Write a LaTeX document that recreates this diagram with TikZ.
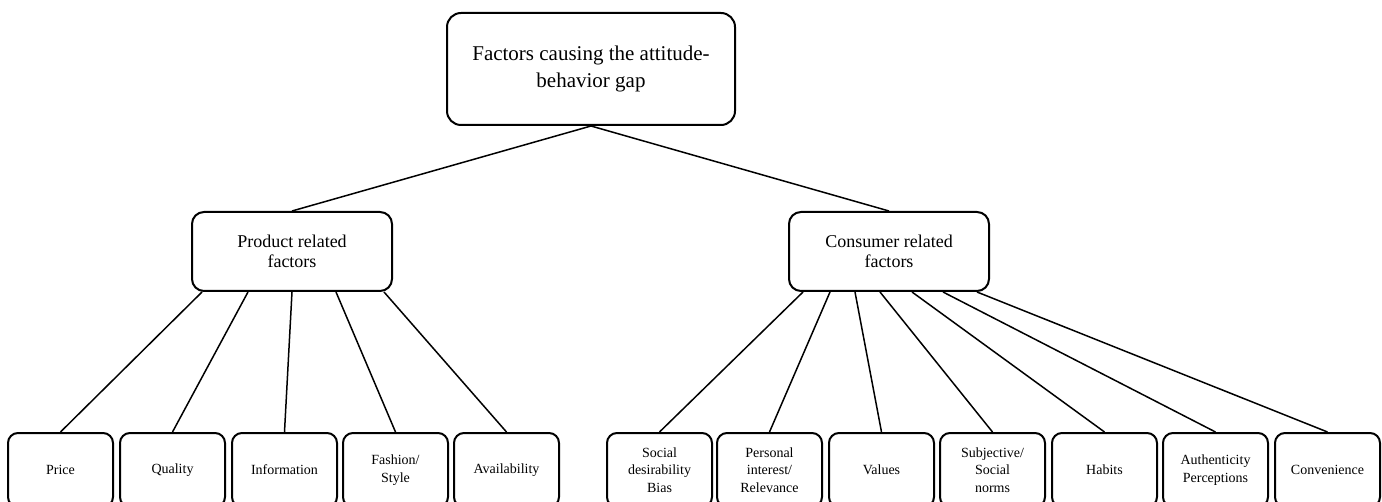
\documentclass[tikz,border=0pt]{standalone}
\usepackage{fontspec}
\setmainfont{Liberation Serif}
\begin{document}
\begin{tikzpicture}[x=0.5pt, y=-0.5pt,
  topbox/.style={draw, line width=1pt, rounded corners=7pt, minimum width=144pt, minimum height=56pt, align=center, font=\fontsize{10.5}{13.3}\selectfont},
  midbox/.style={draw, line width=1pt, rounded corners=6pt, minimum width=100pt, minimum height=39.5pt, align=center, font=\fontsize{9}{10}\selectfont},
  leafbox/.style={draw, line width=1pt, rounded corners=5pt, minimum width=52.5pt, minimum height=37pt, inner sep=1pt, align=center, font=\fontsize{7}{8.8}\selectfont},
  link/.style={line width=0.75pt}]
\useasboundingbox (0,0) rectangle (1382,502);
\node[topbox] (gap) at (591,69){Factors causing the attitude-\\behavior gap};
\node[midbox] (prod) at (292,251.5){Product related\\factors};
\node[midbox] (cons) at (889,251.5){Consumer related\\factors};
\draw[link] (gap.south) -- (prod.north);
\draw[link] (gap.south) -- (cons.north);
% product related
\node[leafbox] (price) at (60.5,470){Price};
\node[leafbox] (quality) at (172.5,470){Quality};
\node[leafbox] (info) at (284.5,470){Information};
\node[leafbox] (fashion) at (395.5,470){Fashion/\\Style};
\node[leafbox] (avail) at (506.5,470){Availability};
\draw[link] ([xshift=-45pt]prod.south) -- (price.north);
\draw[link] ([xshift=-22pt]prod.south) -- (quality.north);
\draw[link] (prod.south) -- (info.north);
\draw[link] ([xshift=22pt]prod.south) -- (fashion.north);
\draw[link] ([xshift=46pt]prod.south) -- (avail.north);
% consumer related
\node[leafbox] (social) at (659.5,470){Social\\desirability\\Bias};
\node[leafbox] (personal) at (769.5,470){Personal\\interest/\\Relevance};
\node[leafbox] (values) at (881.5,470){Values};
\node[leafbox] (norms) at (992.5,470){Subjective/\\Social\\norms};
\node[leafbox] (habits) at (1104.5,470){Habits};
\node[leafbox] (authent) at (1215.5,470){Authenticity\\Perceptions};
\node[leafbox] (conv) at (1327.5,470){Convenience};
\draw[link] ([xshift=-43pt]cons.south) -- (social.north);
\draw[link] ([xshift=-29.5pt]cons.south) -- (personal.north);
\draw[link] ([xshift=-17pt]cons.south) -- (values.north);
\draw[link] ([xshift=-4.5pt]cons.south) -- (norms.north);
\draw[link] ([xshift=11.5pt]cons.south) -- (habits.north);
\draw[link] ([xshift=27pt]cons.south) -- (authent.north);
\draw[link] ([xshift=44pt]cons.south) -- (conv.north);
\end{tikzpicture}
\end{document}
